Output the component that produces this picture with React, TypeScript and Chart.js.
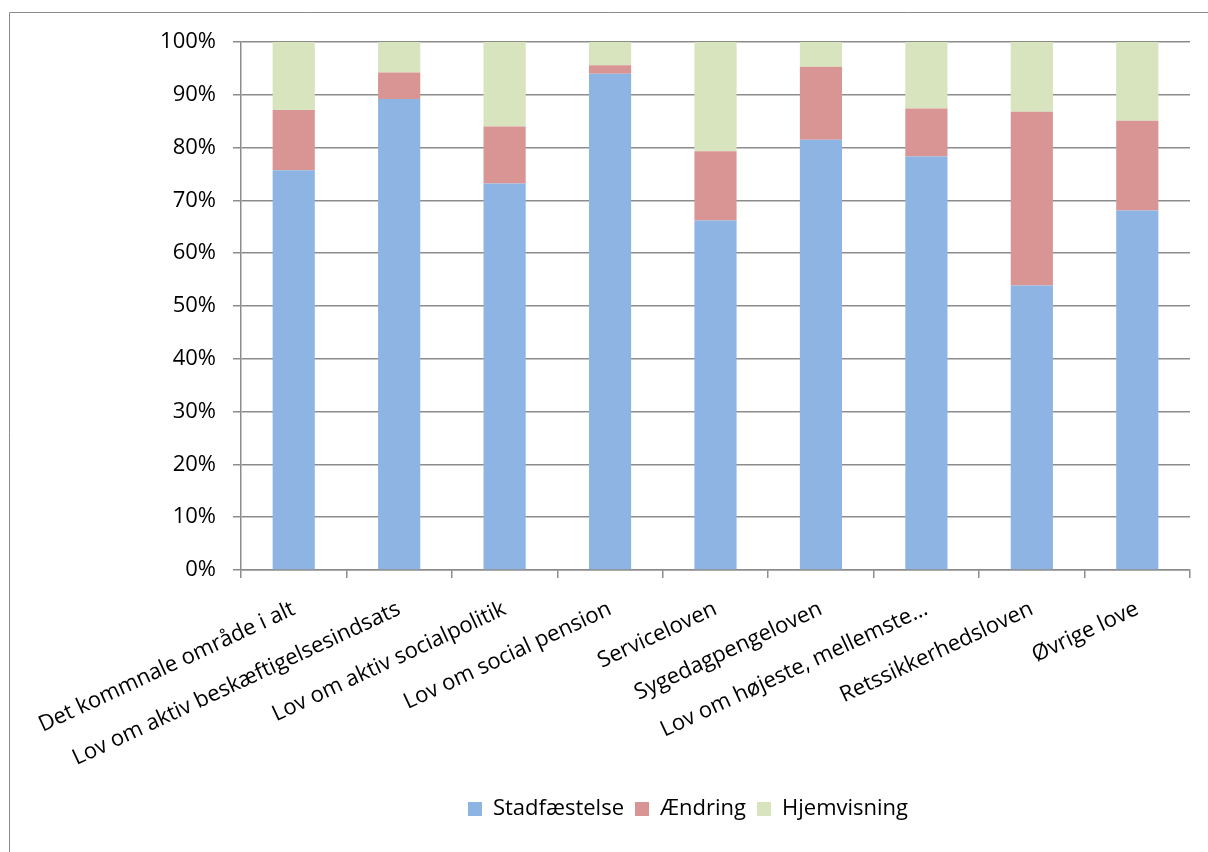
import React, { useEffect, useRef } from "react";
import { Chart, registerables } from "chart.js";

Chart.register(...registerables);

// Categories (law areas) along the x axis
const categories: string[] = [
  "Det kommnale område i alt",
  "Lov om aktiv beskæftigelsesindsats",
  "Lov om aktiv socialpolitik",
  "Lov om social pension",
  "Serviceloven",
  "Sygedagpengeloven",
  "Lov om højeste, mellemste…",
  "Retssikkerhedsloven",
  "Øvrige love",
];

// Share of decisions (percent) per outcome
const stadfaestelse: number[] = [75.7, 89.2, 73.2, 94.0, 66.2, 81.5, 78.3, 53.9, 68.1];
const aendring: number[] = [11.4, 5.0, 10.8, 1.6, 13.1, 13.8, 9.1, 32.9, 17.0];
const hjemvisning: number[] = [12.9, 5.8, 16.0, 4.4, 20.7, 4.7, 12.6, 13.2, 14.9];

const seriesNames: string[] = ["Stadfæstelse", "Ændring", "Hjemvisning"];

// Y axis tick values
const yTicks: number[] = [0, 10, 20, 30, 40, 50, 60, 70, 80, 90, 100];

const FONT = "'Open Sans'";
const FONT_SIZE = 22;
const GRID = "#8c8c8c";

// Thin frame around the chart box
const framePlugin = {
  id: "frame",
  beforeDraw(chart: Chart) {
    const ctx = chart.ctx;
    ctx.save();
    ctx.strokeStyle = "#8a8a8a";
    ctx.lineWidth = 1;
    ctx.beginPath();
    ctx.moveTo(9.5, chart.height);
    ctx.lineTo(9.5, 12.5);
    ctx.lineTo(chart.width, 12.5);
    ctx.stroke();
    ctx.restore();
  },
};

// Centre the legend row a little right of the canvas middle
const legendShiftPlugin = {
  id: "legendShift",
  afterLayout(chart: any) {
    if (chart.legend) {
      chart.legend.left += 186;
    }
  },
};

export default function App() {
  const canvasRef = useRef<HTMLCanvasElement | null>(null);

  useEffect(() => {
    if (!canvasRef.current) return;
    const chart = new Chart(canvasRef.current, {
      type: "bar",
      data: {
        labels: categories,
        datasets: [
          { label: seriesNames[0], data: stadfaestelse, backgroundColor: "#8eb4e3" },
          { label: seriesNames[1], data: aendring, backgroundColor: "#d99594" },
          { label: seriesNames[2], data: hjemvisning, backgroundColor: "#d7e4bd" },
        ],
      },
      options: {
        animation: false,
        responsive: false,
        devicePixelRatio: 1,
        layout: { padding: { left: 0, right: 18, top: 42, bottom: 22 } },
        datasets: {
          bar: { barPercentage: 0.4, categoryPercentage: 1, borderWidth: 0 },
        },
        plugins: {
          legend: {
            position: "bottom",
            labels: {
              boxWidth: 14,
              boxHeight: 14,
              padding: 11,
              color: "#000",
              font: { family: FONT, size: FONT_SIZE },
            },
          },
          tooltip: { enabled: false },
        },
        scales: {
          x: {
            stacked: true,
            grid: {
              offset: true,
              drawOnChartArea: false,
              drawTicks: true,
              tickLength: 8,
              color: GRID,
              lineWidth: 1.5,
            },
            border: { display: true, color: GRID, width: 1.5 },
            ticks: {
              autoSkip: false,
              maxRotation: 25,
              minRotation: 25,
              padding: 18,
              color: "#000",
              font: { family: FONT, size: FONT_SIZE },
            },
            afterFit(scale: any) {
              scale.height = 217;
            },
          },
          y: {
            stacked: true,
            min: 0,
            max: 100,
            afterBuildTicks(scale: any) {
              scale.ticks = yTicks.map((v) => ({ value: v }));
            },
            grid: {
              color: GRID,
              lineWidth: 1.5,
              tickLength: 8,
              drawTicks: true,
            },
            border: { display: true, color: GRID, width: 1.5 },
            ticks: {
              padding: 17,
              color: "#000",
              font: { family: FONT, size: FONT_SIZE },
              callback: (v: any) => `${v}%`,
            },
            afterFit(scale: any) {
              scale.width = 241;
            },
          },
        },
      },
      plugins: [framePlugin, legendShiftPlugin],
    });
    return () => chart.destroy();
  }, []);

  return (
    <div style={{ position: "fixed", left: 0, top: 0, width: 1208, height: 852, background: "#fff" }}>
      <canvas ref={canvasRef} width={1208} height={852} />
    </div>
  );
}
